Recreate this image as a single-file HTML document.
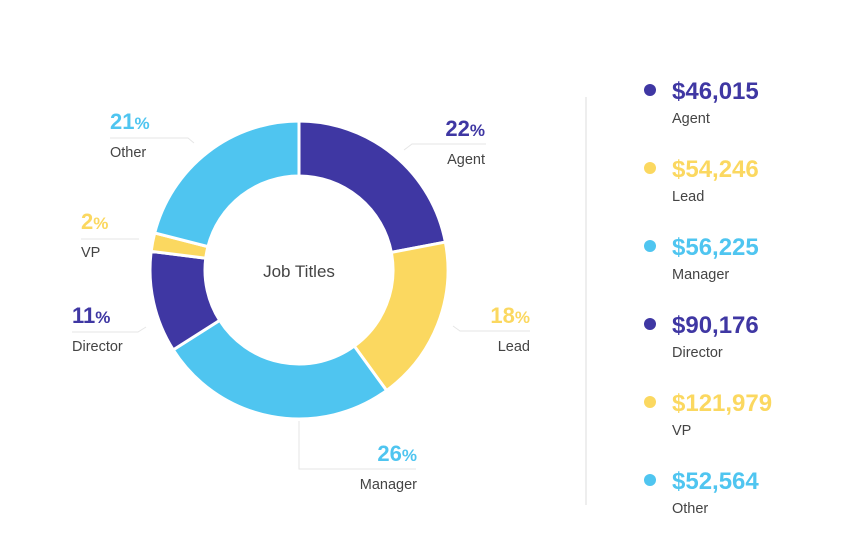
<!DOCTYPE html>
<html><head><meta charset="utf-8"><style>
body{margin:0;background:#fff;width:852px;height:552px;overflow:hidden;font-family:"Liberation Sans",sans-serif}
</style></head><body>
<svg id="chart" width="852" height="552" xmlns="http://www.w3.org/2000/svg"></svg>
<script>
const categories=["Agent","Lead","Manager","Director","VP","Other"];
const shares=[22,18,26,11,2,21];
const salaries=["$46,015","$54,246","$56,225","$90,176","$121,979","$52,564"];
const colors=["#3f37a3","#fbd860","#4fc5f0","#3f37a3","#fbd860","#4fc5f0"];
const NS="http://www.w3.org/2000/svg";
const svg=document.getElementById('chart');
function mk(t,a,p){const e=document.createElementNS(NS,t);for(const k in a)e.setAttribute(k,a[k]);(p||svg).appendChild(e);return e;}
const cx=299,cy=270,ro=149,ri=94;
const total=shares.reduce((a,b)=>a+b,0);
function pt(r,a){return [cx+r*Math.sin(a),cy-r*Math.cos(a)];}
let acc=0;
shares.forEach((v,i)=>{
  const a0=acc/total*2*Math.PI,a1=(acc+v)/total*2*Math.PI;acc+=v;
  const lg=(a1-a0)>Math.PI?1:0;
  const p0=pt(ro,a0),p1=pt(ro,a1),p2=pt(ri,a1),p3=pt(ri,a0);
  const e=mk('path',{d:`M${p0}A${ro},${ro} 0 ${lg} 1 ${p1}L${p2}A${ri},${ri} 0 ${lg} 0 ${p3}Z`,fill:colors[i],stroke:'#fff','stroke-width':3});
  
  
});
const ct=mk('text',{x:cx,y:cy+7,'text-anchor':'middle','font-size':17,fill:'#444'});ct.textContent='Job Titles';


const leaders=[
 "M404,150L412,144L486,144","M453,326L460,331L530,331","M299,421L299,469L416,469",
 "M146,327L138,332L72,332","M139,239L81,239","M194,143L188,138L110,138"];
const labelPos=[[485,136,'end'],[530,323,'end'],[417,461,'end'],[72,323,'start'],[81,229,'start'],[110,129,'start']];
categories.forEach((c,i)=>{
  const l=mk('path',{d:leaders[i],fill:'none',stroke:'#e6e6e6','stroke-width':1});
  
  
  const [x,y,an]=labelPos[i];
  const t=mk('text',{x:x,y:y,'text-anchor':an,'font-size':22,'font-weight':'bold',fill:colors[i]});
  t.innerHTML=shares[i]+'<tspan font-size="17">%</tspan>';
  
  
  const n=mk('text',{x:x,y:y+28,'text-anchor':an,'font-size':14.5,fill:'#444'});n.textContent=c;
  
  
});
const sep=mk('line',{x1:586,y1:97,x2:586,y2:505,stroke:'#eeeeee','stroke-width':2});


categories.forEach((c,i)=>{
  const y=90+i*78;
  const g=mk('g',{});
  
  
  mk('circle',{cx:650,cy:y,r:6,fill:colors[i]},g);
  const v=mk('text',{x:672,y:y+9,'font-size':24,'font-weight':'bold',fill:colors[i]},g);v.textContent=salaries[i];
  const n=mk('text',{x:672,y:y+33,'font-size':14.5,fill:'#444'},g);n.textContent=c;
});
</script>
</body></html>
